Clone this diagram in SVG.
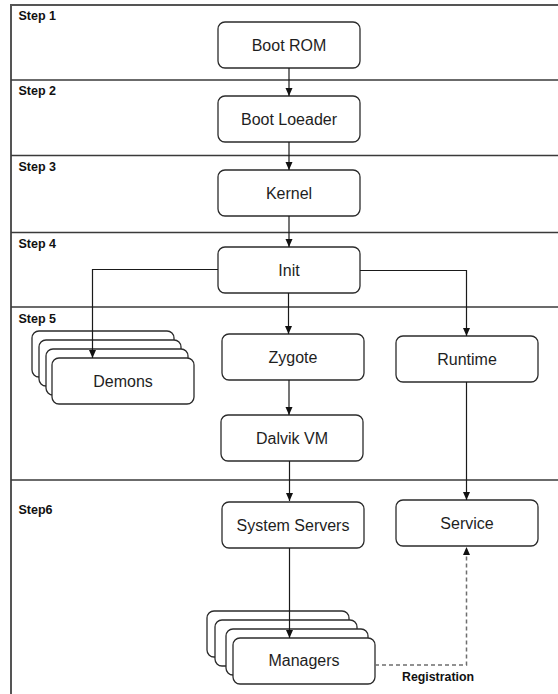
<svg xmlns="http://www.w3.org/2000/svg" width="558" height="694" viewBox="0 0 558 694">
  <style>
    .lane { stroke: #3a3a3a; stroke-width: 1.5; fill: none; }
    .frame { stroke: #555; stroke-width: 2; fill: none; }
    .step { font-family: "Liberation Sans", Arial, sans-serif; font-size: 12.5px; font-weight: bold; fill: #111; }
    .box { fill: #fff; stroke: #2b2b2b; stroke-width: 1.3; }
    .label { font-family: "Liberation Sans", Arial, sans-serif; font-size: 16px; fill: #1e1e1e; text-anchor: middle; }
    .edge { stroke: #1a1a1a; stroke-width: 1.2; fill: none; marker-end: url(#arrow); }
    .dashed { stroke: #6e6e6e; stroke-width: 1.5; stroke-dasharray: 4 3; fill: none; marker-end: url(#arrow); }
    .note { font-family: "Liberation Sans", Arial, sans-serif; font-size: 13px; font-weight: bold; fill: #111; }
  </style>
  <defs>
    <marker id="arrow" markerUnits="userSpaceOnUse" markerWidth="8" markerHeight="8" refX="8" refY="3.5" orient="auto">
      <path d="M0,0 L8,3.5 L0,7 z" fill="#111"/>
    </marker>
  </defs>

  <rect width="558" height="694" fill="#fff"/>

  <!-- swimlane frame and step separators -->
  <g id="lanes">
    <line class="frame" x1="11" y1="5" x2="558" y2="5"/>
    <line class="frame" x1="11" y1="4" x2="11" y2="694"/>
    <line class="lane" x1="11" y1="80" x2="558" y2="80"/>
    <line class="lane" x1="11" y1="155.5" x2="558" y2="155.5"/>
    <line class="lane" x1="11" y1="232.5" x2="558" y2="232.5"/>
    <line class="lane" x1="11" y1="307" x2="558" y2="307"/>
    <line class="lane" x1="11" y1="480" x2="558" y2="480"/>
    <text class="step" x="18.5" y="20">Step 1</text>
    <text class="step" x="18.5" y="95">Step 2</text>
    <text class="step" x="18.5" y="171">Step 3</text>
    <text class="step" x="18.5" y="248">Step 4</text>
    <text class="step" x="18.5" y="323">Step 5</text>
    <text class="step" x="18.5" y="514">Step6</text>
  </g>

  <g id="boot-rom">
    <rect class="box" x="218" y="22" width="142" height="46" rx="7"/>
    <text class="label" x="289" y="50.5">Boot ROM</text>
  </g>
  <g id="boot-loader">
    <rect class="box" x="218" y="96" width="142" height="46" rx="7"/>
    <text class="label" x="289" y="124.5">Boot Loeader</text>
  </g>
  <g id="kernel">
    <rect class="box" x="218" y="170" width="142" height="46" rx="7"/>
    <text class="label" x="289" y="198.5">Kernel</text>
  </g>
  <g id="init">
    <rect class="box" x="218" y="247" width="142" height="46" rx="7"/>
    <text class="label" x="289" y="275.5">Init</text>
  </g>
  <g id="demons">
    <rect class="box" x="32" y="331" width="142" height="46" rx="7"/>
    <rect class="box" x="39" y="340" width="142" height="46" rx="7"/>
    <rect class="box" x="46" y="349" width="142" height="46" rx="7"/>
    <rect class="box" x="52" y="358" width="142" height="46" rx="7"/>
    <text class="label" x="123" y="386.5">Demons</text>
  </g>
  <g id="zygote">
    <rect class="box" x="222" y="334" width="142" height="46" rx="7"/>
    <text class="label" x="293" y="362.5">Zygote</text>
  </g>
  <g id="runtime">
    <rect class="box" x="396" y="336" width="142" height="46" rx="7"/>
    <text class="label" x="467" y="364.5">Runtime</text>
  </g>
  <g id="dalvik-vm">
    <rect class="box" x="221" y="415" width="142" height="46" rx="7"/>
    <text class="label" x="292" y="443.5">Dalvik VM</text>
  </g>
  <g id="system-servers">
    <rect class="box" x="222" y="502" width="142" height="46" rx="7"/>
    <text class="label" x="293" y="530.5">System Servers</text>
  </g>
  <g id="service">
    <rect class="box" x="396" y="500" width="142" height="46" rx="7"/>
    <text class="label" x="467" y="528.5">Service</text>
  </g>
  <g id="managers">
    <rect class="box" x="207" y="611" width="142" height="46" rx="7"/>
    <rect class="box" x="215" y="620" width="142" height="46" rx="7"/>
    <rect class="box" x="226" y="629" width="142" height="46" rx="7"/>
    <rect class="box" x="233" y="638" width="142" height="46" rx="7"/>
    <text class="label" x="304" y="666">Managers</text>
  </g>

  <!-- connectors -->
  <g id="connectors">
    <path class="edge" d="M289,68 V96"/>
    <path class="edge" d="M289,142 V170"/>
    <path class="edge" d="M289,216 V247"/>
    <path class="edge" d="M288.5,293 V334"/>
    <path class="edge" d="M218,269.5 H92.5 V358"/>
    <path class="edge" d="M360,270.5 H466.5 V336"/>
    <path class="edge" d="M289,380 V415"/>
    <path class="edge" d="M289.5,461 V501"/>
    <path class="edge" d="M466.5,382 V500"/>
    <path class="edge" d="M289.5,548 V638"/>
    <path class="dashed" d="M375,665 H466.5 V547"/>
    <text class="note" x="402" y="681" textLength="72" lengthAdjust="spacingAndGlyphs">Registration</text>
  </g>
</svg>
